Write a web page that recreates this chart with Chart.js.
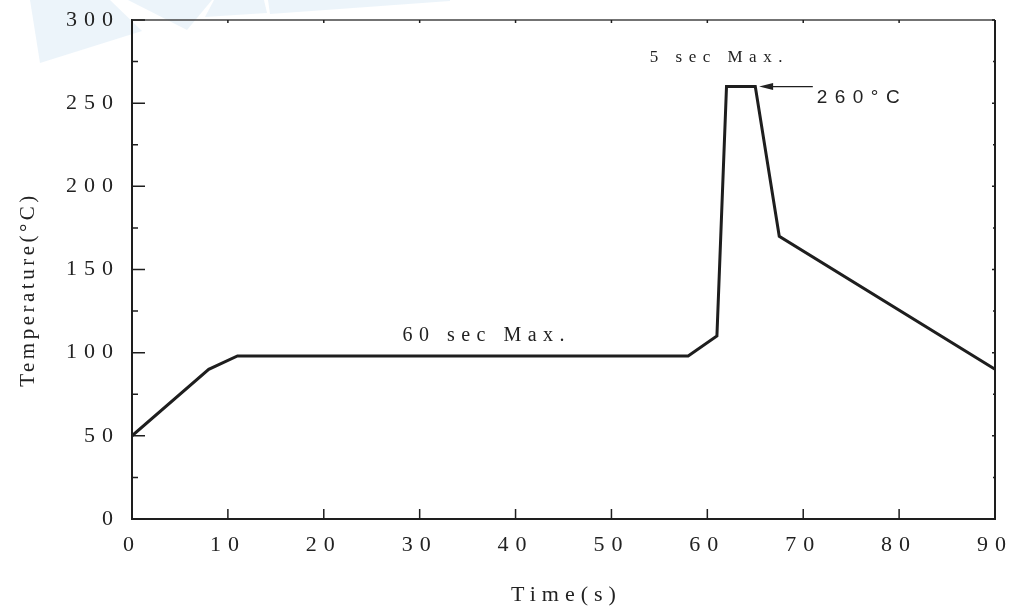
<!DOCTYPE html>
<html>
<head>
<meta charset="utf-8">
<script src="https://cdn.jsdelivr.net/npm/chart.js@4.4.0/dist/chart.umd.min.js"></script>
<style>
  html, body { margin: 0; padding: 0; background: #fff; }
  #wrap { width: 1011px; height: 608px; }
</style>
</head>
<body>
<div id="wrap"><canvas id="chart" width="1011" height="608"></canvas></div>
<script>
// reflow profile
const timeSec = [0, 8, 11, 58, 61, 62, 65, 67.5, 90];
const tempC   = [50, 90, 98, 98, 110, 260, 260, 170, 90];

const xTicks = [0, 10, 20, 30, 40, 50, 60, 70, 80, 90];
const yTicks = [0, 50, 100, 150, 200, 250, 300];
const yMinor = [25, 75, 125, 175, 225, 275];

// notes on the plot: [text, x, y, font size]
const notes = [
  ["5 sec Max.", 54.0, 274.8, 17],
  ["60 sec Max.", 28.2, 107.0, 20]
];
const peakLabel = ["260°C", 71.4, 250.1];
const arrowFrom = [71.0, 260];
const arrowTo = [65.4, 260];

const INK = "#1e1e1e";
const SERIF = "'Liberation Serif', 'DejaVu Serif', serif";
const TICK_SPACING = "7px";

const points = timeSec.map((t, i) => ({ x: t, y: tempC[i] }));

const extras = {
  id: "extras",
  beforeUpdate(chart) {
    chart.ctx.letterSpacing = TICK_SPACING;
  },
  beforeDraw(chart) {
    const ctx = chart.ctx;
    ctx.save();
    // faint watermark in the corner
    ctx.fillStyle = "rgba(205,226,242,0.38)";
    const shapes = [
      [[30, 0], [110, 0], [142, 31], [40, 63]],
      [[128, 0], [212, 0], [187, 30]],
      [[214, 0], [264, 0], [267, 13], [205, 17]],
      [[268, 0], [450, 0], [450, 1], [270, 14]]
    ];
    shapes.forEach(s => {
      ctx.beginPath();
      s.forEach((p, i) => i ? ctx.lineTo(p[0], p[1]) : ctx.moveTo(p[0], p[1]));
      ctx.closePath();
      ctx.fill();
    });
    ctx.restore();
    ctx.letterSpacing = TICK_SPACING;
  },
  afterDraw(chart) {
    const ctx = chart.ctx;
    const xs = chart.scales.x, ys = chart.scales.y;
    const a = chart.chartArea;
    ctx.save();
    // top and right border
    ctx.lineWidth = 1.6;
    ctx.strokeStyle = "#444";
    ctx.beginPath();
    ctx.moveTo(a.left, a.top);
    ctx.lineTo(a.right, a.top);
    ctx.stroke();
    ctx.lineWidth = 2;
    ctx.strokeStyle = INK;
    ctx.beginPath();
    ctx.moveTo(a.right, a.top);
    ctx.lineTo(a.right, a.bottom);
    ctx.stroke();
    // inward tick marks
    ctx.lineWidth = 1.5;
    ctx.beginPath();
    xTicks.forEach(v => {
      const px = xs.getPixelForValue(v);
      ctx.moveTo(px, a.bottom);
      ctx.lineTo(px, a.bottom - 10);
      ctx.moveTo(px, a.top);
      ctx.lineTo(px, a.top + 3);
    });
    yTicks.forEach(v => {
      const py = ys.getPixelForValue(v);
      ctx.moveTo(a.left, py);
      ctx.lineTo(a.left + 13, py);
      ctx.moveTo(a.right, py);
      ctx.lineTo(a.right - 3, py);
    });
    yMinor.forEach(v => {
      const py = ys.getPixelForValue(v);
      ctx.moveTo(a.left, py);
      ctx.lineTo(a.left + 6, py);
      ctx.moveTo(a.right, py);
      ctx.lineTo(a.right - 2, py);
    });
    ctx.stroke();

    // annotations
    ctx.fillStyle = "#222";
    ctx.textAlign = "left";
    ctx.textBaseline = "alphabetic";
    ctx.letterSpacing = "6.5px";
    notes.forEach(n => {
      ctx.font = n[3] + "px " + SERIF;
      ctx.fillText(n[0], xs.getPixelForValue(n[1]), ys.getPixelForValue(n[2]));
    });
    ctx.font = "19px 'Liberation Sans', Arial, sans-serif";
    ctx.letterSpacing = "7.5px";
    ctx.fillText(peakLabel[0], xs.getPixelForValue(peakLabel[1]), ys.getPixelForValue(peakLabel[2]));

    // arrow to the peak
    const x1 = xs.getPixelForValue(arrowFrom[0]), y1 = ys.getPixelForValue(arrowFrom[1]);
    const x2 = xs.getPixelForValue(arrowTo[0]), y2 = ys.getPixelForValue(arrowTo[1]);
    ctx.lineWidth = 1.2;
    ctx.beginPath();
    ctx.moveTo(x1, y1);
    ctx.lineTo(x2 + 12, y2);
    ctx.stroke();
    ctx.beginPath();
    ctx.moveTo(x2, y2);
    ctx.lineTo(x2 + 14, y2 - 3.5);
    ctx.lineTo(x2 + 14, y2 + 3.5);
    ctx.closePath();
    ctx.fill();

    // axis titles
    ctx.font = "22px " + SERIF;
    ctx.letterSpacing = "6px";
    ctx.textAlign = "center";
    ctx.textBaseline = "middle";
    ctx.fillText("Time(s)", (a.left + a.right) / 2 + 3, 595);
    ctx.save();
    ctx.translate(28, (a.top + a.bottom) / 2 + 22);
    ctx.rotate(-Math.PI / 2);
    ctx.font = "21px " + SERIF;
    ctx.letterSpacing = "3.5px";
    ctx.fillText("Temperature(°C)", 2, 0);
    ctx.restore();
    ctx.restore();
    ctx.letterSpacing = TICK_SPACING;
  }
};

new Chart(document.getElementById("chart"), {
  type: "scatter",
  data: {
    datasets: [{
      data: points,
      showLine: true,
      borderColor: INK,
      borderWidth: 3,
      pointRadius: 0,
      tension: 0
    }]
  },
  options: {
    responsive: false,
    animation: false,
    devicePixelRatio: 1,
    layout: { padding: { left: 0, right: 16, top: 20, bottom: 0 } },
    plugins: { legend: { display: false }, tooltip: { enabled: false } },
    scales: {
      x: {
        type: "linear",
        min: 0, max: 90,
        afterBuildTicks: s => { s.ticks = xTicks.map(v => ({ value: v })); },
        afterFit: s => { s.height = 89; s.paddingLeft = 0; s.paddingRight = 0; },
        grid: { display: false, drawTicks: false },
        border: { display: true, color: INK, width: 2 },
        ticks: { color: "#222", padding: 13, maxRotation: 0, font: { family: SERIF, size: 22 } }
      },
      y: {
        type: "linear",
        min: 0, max: 300,
        afterBuildTicks: s => { s.ticks = yTicks.map(v => ({ value: v })); },
        afterFit: s => { s.width = 132; s.paddingTop = 0; s.paddingBottom = 0; },
        grid: { display: false, drawTicks: false },
        border: { display: true, color: INK, width: 2 },
        ticks: { color: "#222", padding: 12, font: { family: SERIF, size: 22 } }
      }
    }
  },
  plugins: [extras]
});
</script>
</body>
</html>
